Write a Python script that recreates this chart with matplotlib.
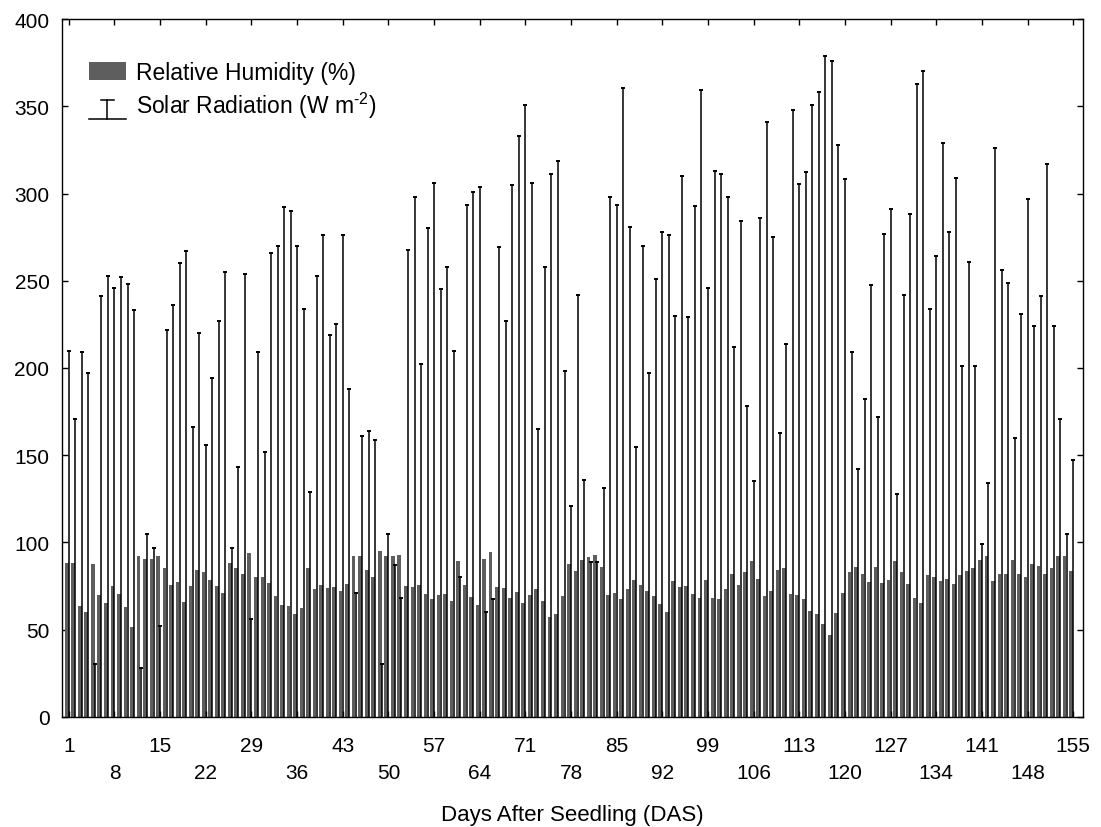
import matplotlib
matplotlib.use("Agg")
import matplotlib.pyplot as plt
from matplotlib.legend_handler import HandlerBase
from matplotlib.lines import Line2D
from matplotlib.patches import Patch

plt.rcParams['font.family'] = ['Liberation Sans', 'DejaVu Sans']
plt.rcParams['mathtext.fontset'] = 'custom'
plt.rcParams['mathtext.rm'] = 'Liberation Sans'

# ---- data ----
days = list(range(1, 156))

rel_humidity = [
    88.0, 88.5, 63.6, 60.3, 87.4, 70.1, 65.5, 75.3, 70.7, 63.2,
    51.7, 92.0, 90.8, 90.8, 92.0, 85.6, 75.9, 77.6, 66.1, 75.3,
    84.5, 83.3, 78.7, 75.3, 71.3, 88.5, 85.1, 82.2, 93.7, 80.5,
    80.5, 77.0, 69.5, 64.4, 63.8, 59.2, 62.6, 85.6, 73.6, 75.9,
    74.1, 74.7, 72.4, 76.4, 92.0, 92.0, 84.5, 80.5, 95.4, 92.5,
    92.5, 93.1, 75.3, 74.7, 75.9, 70.7, 67.8, 70.1, 70.7, 66.7,
    89.1, 75.9, 69.0, 64.4, 90.8, 94.8, 74.7, 74.1, 68.4, 71.8,
    65.5, 70.1, 73.6, 66.7, 57.5, 59.2, 69.5, 87.4, 83.9, 89.7,
    91.4, 93.1, 86.2, 70.1, 71.3, 67.8, 73.6, 78.7, 75.9, 72.4,
    69.5, 64.9, 60.3, 78.2, 74.7, 75.3, 70.7, 68.4, 78.7, 68.4,
    67.8, 73.6, 82.2, 75.9, 83.3, 89.1, 79.3, 69.5, 72.4, 84.5,
    85.1, 70.7, 70.1, 67.8, 60.9, 59.2, 53.4, 47.1, 59.8, 71.3,
    82.8, 86.2, 82.2, 77.6, 86.2, 77.0, 78.7, 89.1, 82.8, 76.4,
    68.4, 65.5, 81.6, 80.5, 78.2, 79.3, 76.4, 81.6, 83.9, 85.6,
    90.2, 92.5, 78.2, 82.2, 82.2, 90.2, 82.2, 80.5, 87.9, 86.8,
    82.2, 85.6, 92.5, 92.5, 83.9,
]

solar_radiation = [
    210, 171, 209, 197, 30.5, 241, 253, 246, 252, 248,
    233, 28, 105, 97, 52, 222, 236, 260, 267, 166,
    220, 156, 194, 227, 255, 97, 143, 254, 56, 209,
    152, 266, 270, 292, 290, 270, 234, 129, 253, 276,
    219, 225, 276, 188, 71, 161, 164, 159, 30.5, 105,
    87, 68, 267.5, 298, 202.5, 280, 306, 245, 258, 210,
    80.5, 293.5, 301, 303.5, 60.3, 67.8, 269.6, 227, 305, 333,
    351, 306, 165, 258, 311, 318.5, 198, 121, 242, 136,
    89, 89, 131, 298, 293.5, 360.6, 280.8, 154.5, 270, 197,
    251, 277.7, 276, 230, 310, 229, 293, 359.6, 246, 313,
    311, 298, 212, 284, 178, 135, 286, 341, 275, 163,
    214, 348, 305.5, 312.5, 351, 358, 379, 376, 328, 308.6,
    209, 142, 182, 247.5, 172, 277, 291, 127.7, 242, 288,
    363, 370, 234, 264, 329, 278, 309, 201, 261, 201,
    99, 134, 326, 256, 248.6, 160, 231, 296.7, 224, 241.5,
    317, 224, 170.6, 105, 147.4,
]

tick_days = list(range(1, 156, 7))
upper_row = tick_days[0::2]   # 1, 15, 29, ...
lower_row = tick_days[1::2]   # 8, 22, 36, ...


class SolarHandler(HandlerBase):
    # bar-with-cap symbol used for the radiation lines
    def create_artists(self, legend, orig_handle, xdescent, ydescent,
                       width, height, fontsize, trans):
        x0 = -xdescent
        y0 = -ydescent - 0.3 * height
        xm = x0 + 0.5 * width
        top = y0 + 1.05 * height
        cw = 0.18 * width
        base = Line2D([x0, x0 + width], [y0, y0], color='black', lw=1.1, transform=trans)
        stem = Line2D([xm, xm], [y0, top], color='black', lw=1.1, transform=trans)
        cap = Line2D([xm - cw, xm + cw], [top, top], color='black', lw=1.1, transform=trans)
        return [base, stem, cap]


fig = plt.figure(figsize=(11.01, 8.28), dpi=100)
ax = fig.add_axes([0.0563, 0.1329, 0.9274, 0.8429])

bar_x = [d - 0.33 for d in days]
ax.bar(bar_x, rel_humidity, width=0.56, color='#5e5e5e', linewidth=0, zorder=2)
ax.vlines(days, 0, solar_radiation, color='black', linewidth=1.1, zorder=3)
ax.plot(days, solar_radiation, linestyle='none', marker='_', markersize=3.5,
        markeredgewidth=1.4, color='black', zorder=3)

ax.set_xlim(-0.05, 156.5)
ax.set_ylim(0, 400)
ax.set_yticks(range(0, 401, 50))

ax.set_xticks(upper_row)
ax.set_xticklabels([str(d) for d in upper_row])
ax.set_xticks(lower_row, minor=True)
ax.set_xticklabels([str(d) for d in lower_row], minor=True)

ax.tick_params(axis='both', which='both', direction='in', length=4, width=1,
               top=True, right=True, labelsize=15)
ax.tick_params(axis='x', which='major', pad=13.5)
ax.tick_params(axis='x', which='minor', pad=33.5)
ax.tick_params(axis='y', pad=9)

for sp in ax.spines.values():
    sp.set_linewidth(1.0)

ax.set_xlabel('Days After Seedling (DAS)', fontsize=16)
ax.xaxis.set_label_coords(0.5, -0.124)

handles = [Patch(facecolor='#5e5e5e', edgecolor='none'), Line2D([], [])]
labels = ['Relative Humidity (%)', 'Solar Radiation (W m$^{\\text{-}2}$)']
ax.legend(handles, labels, loc='upper left', bbox_to_anchor=(0.0264, 0.94),
          frameon=False, fontsize=16.5, handlelength=1.6, handleheight=0.85,
          handletextpad=0.45, labelspacing=0.25, borderpad=0, borderaxespad=0,
          handler_map={Line2D: SolarHandler()})

fig.savefig('out.png', dpi=100)
